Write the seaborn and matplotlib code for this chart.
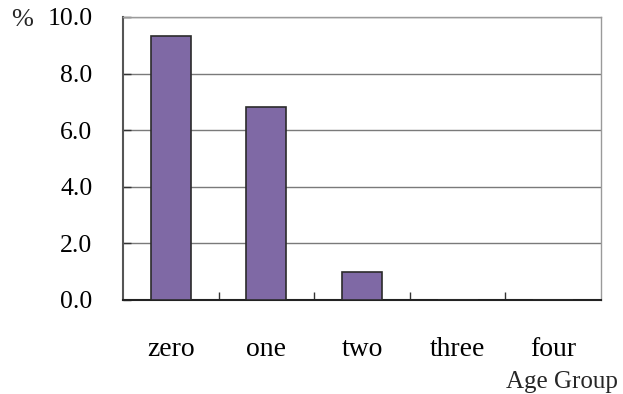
import matplotlib
matplotlib.use("Agg")
import matplotlib.pyplot as plt
import seaborn as sns
import pandas as pd

# Data
age_groups = ['zero', 'one', 'two', 'three', 'four']
percent = [9.33, 6.83, 1.0, 0.0, 0.0]
y_ticks = [0.0, 2.0, 4.0, 6.0, 8.0, 10.0]

sns.set_theme(style="white")
plt.rcParams['font.family'] = ['Liberation Serif', 'DejaVu Serif']

df = pd.DataFrame({'Age Group': age_groups, 'Percent': percent})

fig = plt.figure(figsize=(6.23, 3.94), dpi=100)
ax = fig.add_axes([0.1974, 0.2386, 0.7673, 0.7183])

sns.barplot(data=df, x='Age Group', y='Percent', color='#7F69A5', saturation=1,
            width=0.42, edgecolor='#2B2B2B', linewidth=1.2, ax=ax, zorder=3)

ax.set_ylim(0, 10)
ax.set_xlim(-0.5, len(age_groups) - 0.5)
ax.set_yticks(y_ticks)
ax.set_yticklabels([f'{v:.1f}' for v in y_ticks], fontsize=18.5)
ax.yaxis.grid(True, color='#7A7A7A', linewidth=1.0, zorder=0)
ax.set_axisbelow(True)

# category labels, ticks between categories
ax.set_xticks(range(len(age_groups)))
ax.set_xticklabels(age_groups, fontsize=20)
ax.tick_params(axis='x', length=0, pad=27, colors='black')
ax.set_xticks([i + 0.5 for i in range(len(age_groups) - 1)], minor=True)
ax.tick_params(axis='x', which='minor', direction='in', length=6, width=1, color='#333333', bottom=True)
ax.tick_params(axis='y', direction='in', length=6, width=1, left=True, pad=22,
               color='#333333', labelcolor='black')

ax.set_xlabel('')
ax.set_ylabel('')
for side in ['top', 'right']:
    ax.spines[side].set_color('#9A9A9A')
    ax.spines[side].set_linewidth(1.0)
ax.spines['left'].set_color('#555555')
ax.spines['left'].set_linewidth(1.5)
ax.spines['bottom'].set_color('#222222')
ax.spines['bottom'].set_linewidth(1.5)

fig.text(0.018, 0.95, '%', fontsize=19, ha='left', va='center')
fig.text(0.992, 0.03, 'Age Group', fontsize=18, ha='right', va='center')

fig.savefig('out.png', dpi=100, facecolor='white')
